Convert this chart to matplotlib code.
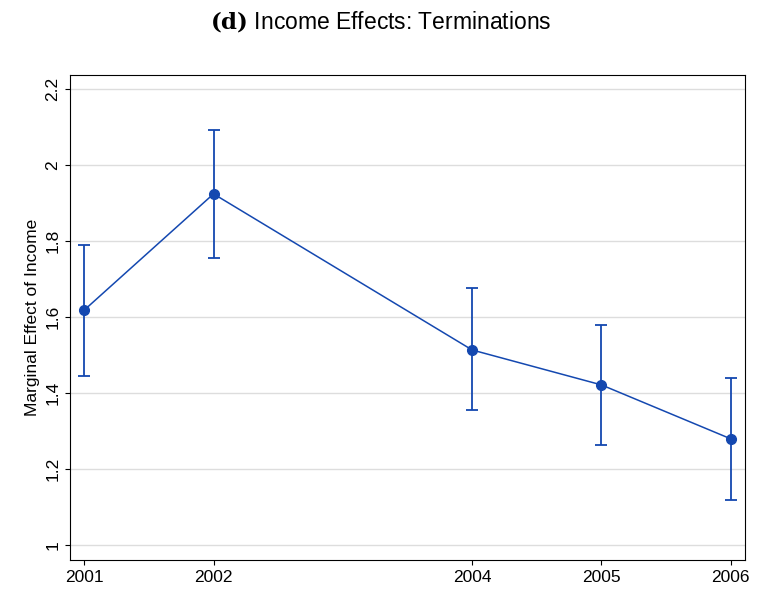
import matplotlib.pyplot as plt

plt.rcParams['font.family'] = ['Liberation Sans', 'DejaVu Sans']
plt.rcParams['mathtext.fontset'] = 'dejavuserif'

years = [2001, 2002, 2004, 2005, 2006]
effect = [1.618, 1.924, 1.513, 1.421, 1.279]
ci_low = [1.445, 1.755, 1.355, 1.263, 1.118]
ci_high = [1.789, 2.092, 1.676, 1.579, 1.439]
yticks = [1, 1.2, 1.4, 1.6, 1.8, 2, 2.2]

color = '#1448b0'
fig = plt.figure(figsize=(7.61, 5.94), dpi=100)
ax = fig.add_axes([70/761, 34/594, 675/761, 485/594])

err = [[e - l for e, l in zip(effect, ci_low)], [h - e for e, h in zip(effect, ci_high)]]
ax.errorbar(years, effect, yerr=err, color=color, marker='o', markersize=7,
            linewidth=1.1, elinewidth=1.3, capsize=4, capthick=1.3, zorder=3)

ax.set_xlim(2000.89, 2006.11)
ax.set_ylim(0.96, 2.237)
ax.set_xticks(years)
ax.set_xticklabels([str(y) for y in years])
ax.set_yticks(yticks)
ax.set_yticklabels(['1', '1.2', '1.4', '1.6', '1.8', '2', '2.2'], rotation=90, va='center')
ax.tick_params(labelsize=12.5)
ax.yaxis.grid(True, color='#dddddd', linewidth=1)
ax.set_axisbelow(True)
for s in ax.spines.values():
    s.set_color('black')
    s.set_linewidth(0.8)
ax.set_ylabel('Marginal Effect of Income', fontsize=12.5)

fig.text(0.5, 0.963, r'$\mathbf{(d)}$ Income Effects: Terminations', ha='center',
         va='center', fontsize=16.5)
fig.savefig('out.png')
